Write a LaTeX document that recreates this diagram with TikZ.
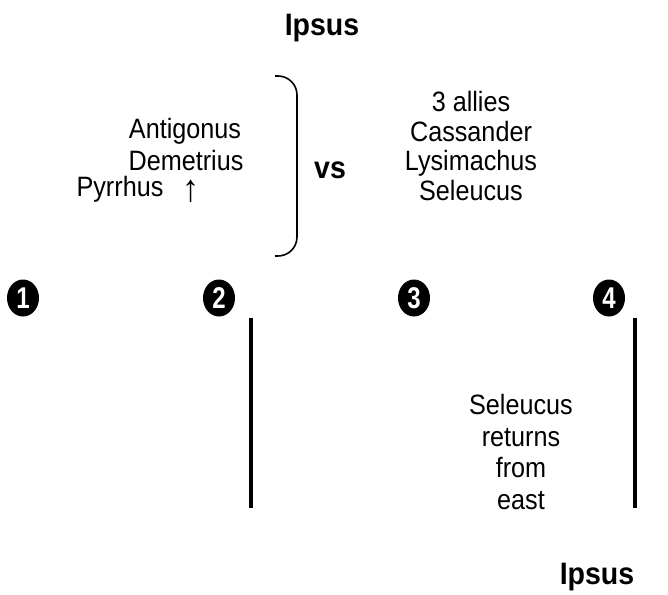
\documentclass[tikz,border=0pt]{standalone}
\usepackage{fontspec}
\setmainfont{Liberation Sans}
\newfontfamily\narrowfont[FakeStretch=0.9]{Liberation Sans}
\newfontfamily\titlefont[FakeStretch=0.92]{Liberation Sans}
\newfontfamily\digitfont[FakeStretch=0.8]{Liberation Sans}
\usetikzlibrary{shapes.geometric}
\begin{document}
\begin{tikzpicture}[x=1pt,y=-1pt,
  txt/.style={font=\narrowfont\fontsize{28}{29.5}\selectfont, inner sep=0pt, align=center},
  txtwide/.style={txt, font=\narrowfont\fontsize{28}{31.5}\selectfont},
  ttl/.style={font=\titlefont\bfseries\fontsize{31}{34}\selectfont, inner sep=0pt},
  num/.style={ellipse, fill=black, minimum width=32pt, minimum height=37pt, inner sep=0pt, text=white, font=\digitfont\bfseries\fontsize{30}{30}\selectfont},
  bar/.style={line width=4.5pt},
  brace/.style={line width=1.6pt, rounded corners=19pt}]
\useasboundingbox (0,0) rectangle (668,594);
\node[ttl] (ipsustop) at (322,28) {Ipsus};
\node[txt] (antigonus) at (185,131) {Antigonus};
\node[txt] (demetrius) at (186,160) {Demetrius};
\node[txt] (pyrrhus) at (120,189) {Pyrrhus};
\node[txt, font=\narrowfont\fontsize{38}{38}\selectfont] (arrow) at (191,191) {↑};
\draw[brace] (275,76) -- (297,76) -- (297,256) -- (275,256);
\node[ttl] (vs) at (330,170) {vs};
\node[txt] (allies) at (471,146) {3 allies\\Cassander\\Lysimachus\\Seleucus};
\node[num] (n1) at (23,298) {1};
\node[num] (n2) at (219,298) {2};
\node[num] (n3) at (414,298) {3};
\node[num] (n4) at (609,298) {4};
\draw[bar] (251,318) -- (251,508);
\draw[bar] (635,318) -- (635,508);
\node[txtwide] (seleucus) at (521,452) {Seleucus\\returns\\from\\east};
\node[ttl] (ipsusbot) at (597,577) {Ipsus};
\end{tikzpicture}
\end{document}
